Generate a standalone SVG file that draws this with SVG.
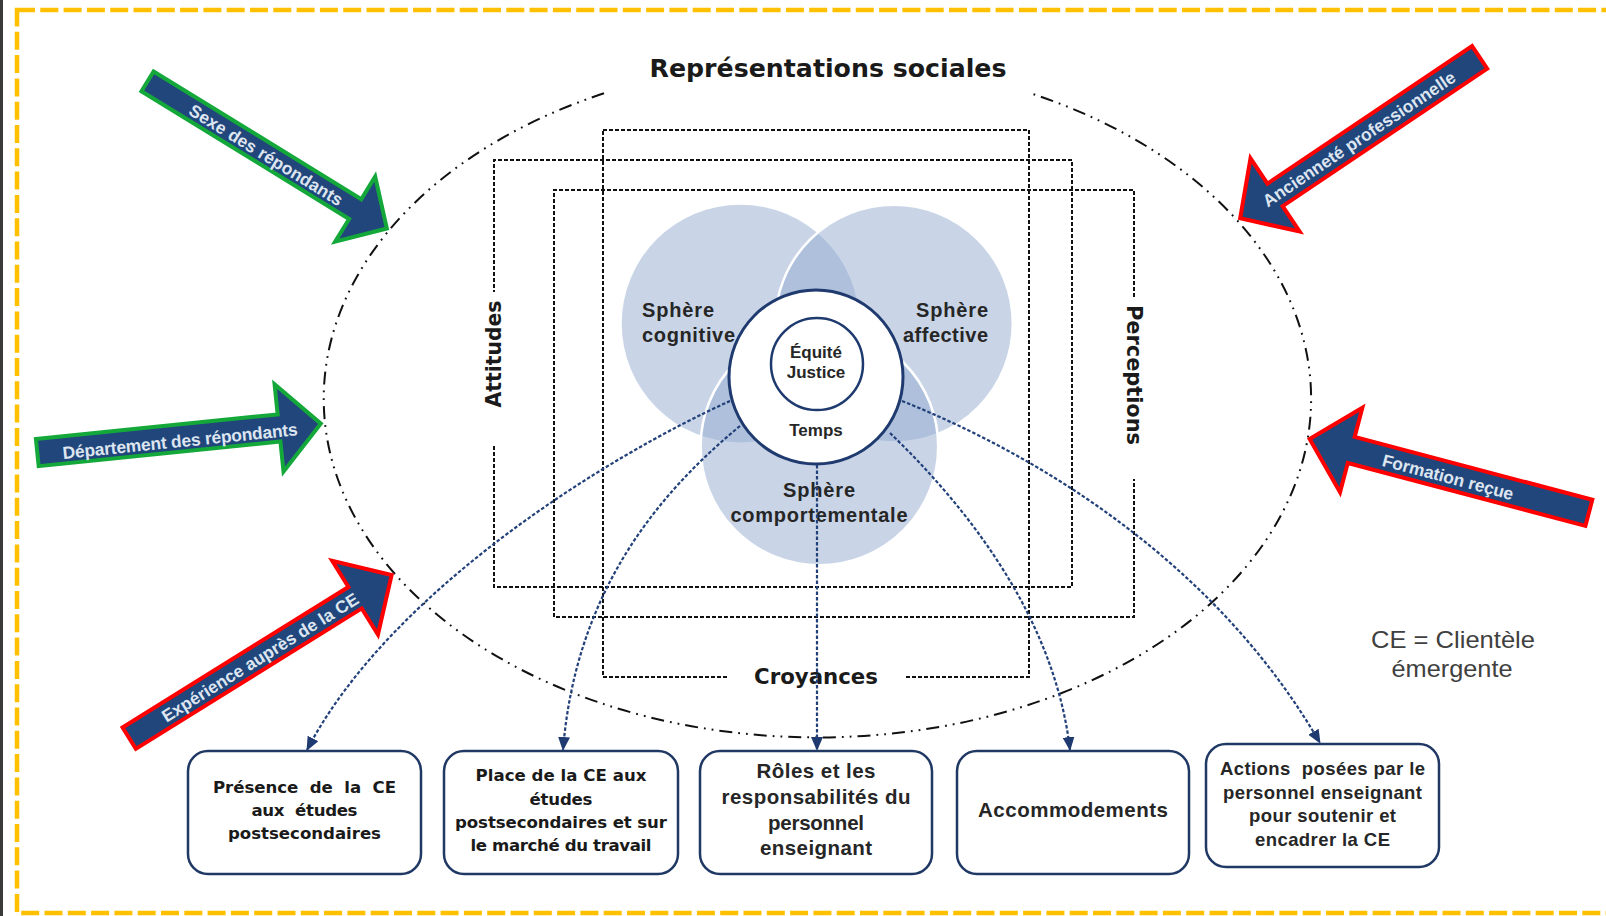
<svg xmlns="http://www.w3.org/2000/svg" width="1606" height="916" viewBox="0 0 1606 916">
<style>
.bd{font-family:"DejaVu Sans",Verdana,sans-serif;font-weight:bold;fill:#1a1a1a}
.ls{font-family:"Liberation Sans",Arial,sans-serif;font-weight:bold;fill:#262626}
.arr{fill:#21467B;stroke-width:4;stroke-linejoin:miter}
.g{stroke:#14A83B}
.r{stroke:#FF0000}
.at{font-family:"Liberation Sans",Arial,sans-serif;font-weight:bold;font-size:17.4px;fill:#DDE5F0}
.frame{fill:none;stroke:#111;stroke-width:2;stroke-dasharray:4 2}
.box{fill:#fff;stroke:#1F3864;stroke-width:2.5}
.con{fill:none;stroke:#22407A;stroke-width:2.2;stroke-dasharray:3.5 2}
.sph{fill:#94ABCF;fill-opacity:.5}
</style>
<defs>
<marker id="ah" viewBox="0 0 14 12" refX="13" refY="6" markerWidth="14" markerHeight="12" markerUnits="userSpaceOnUse" orient="auto">
<path d="M0,0 L14,6 L0,12 Z" fill="#1F3A70"/>
</marker>
</defs>
<rect width="1606" height="916" fill="#fff"/>
<rect x="0" y="0" width="3" height="916" fill="#3a3a3a"/>
<rect x="17" y="10" width="1610" height="903" fill="none" stroke="#FFC000" stroke-width="4.5" stroke-dasharray="18 5.3"/>

<g id="ellipse">
<path d="M604 93.3 A493.7 338.7 0 1 0 1029 92.7" fill="none" stroke="#111" stroke-width="2" stroke-dasharray="13 6 1.8 6 1.8 6"/>
</g>
<g id="title"><text class="bd" x="828" y="77" font-size="25" text-anchor="middle" textLength="357" lengthAdjust="spacingAndGlyphs">Représentations sociales</text></g>

<g id="frames">
<path class="frame" d="M603 130 H1029 V677 H906 M727 677 H603 V130"/>
<path class="frame" d="M494 446 V587 H1072 V160 H494 V292"/>
<path class="frame" d="M1134 297 V190 H554 V617 H1134 V479"/>
</g>
<g id="lbl-attitudes"><text class="bd" font-size="21" text-anchor="middle" transform="translate(493 354) rotate(-90)" dy="0.36em" textLength="107" lengthAdjust="spacingAndGlyphs">Attitudes</text></g>
<g id="lbl-perceptions"><text class="bd" font-size="21" text-anchor="middle" transform="translate(1135 375) rotate(90)" dy="0.36em" textLength="140" lengthAdjust="spacingAndGlyphs">Perceptions</text></g>
<g id="lbl-croyances"><text class="bd" x="816" y="684" font-size="21" text-anchor="middle" textLength="124" lengthAdjust="spacingAndGlyphs">Croyances</text></g>

<g id="spheres">
<circle class="sph" cx="740.5" cy="323.6" r="118.8"/>
<circle class="sph" cx="894" cy="323.6" r="118.8" stroke="#fff" stroke-width="2.5"/>
<circle class="sph" cx="819.4" cy="446.5" r="118.8" stroke="#fff" stroke-width="2.5"/>
</g>
<g id="sphere-cognitive">
<text class="ls" x="642" y="317" font-size="20" textLength="72">Sphère</text>
<text class="ls" x="642" y="342" font-size="20" textLength="93">cognitive</text>
</g>
<g id="sphere-affective">
<text class="ls" x="988" y="317" font-size="20" text-anchor="end" textLength="72">Sphère</text>
<text class="ls" x="988" y="342" font-size="20" text-anchor="end" textLength="85">affective</text>
</g>
<g id="sphere-comportementale">
<text class="ls" x="819" y="497" font-size="20" text-anchor="middle" textLength="72">Sphère</text>
<text class="ls" x="819" y="522" font-size="20" text-anchor="middle" textLength="177">comportementale</text>
</g>
<g id="center">
<circle cx="816" cy="377" r="87" fill="#fff" stroke="#1F3A6E" stroke-width="3"/>
<circle cx="817" cy="364" r="46" fill="#fff" stroke="#1F3A6E" stroke-width="2.5"/>
<text class="ls" x="816" y="358" font-size="17" text-anchor="middle">Équité</text>
<text class="ls" x="816" y="378" font-size="17" text-anchor="middle">Justice</text>
<text class="ls" x="816" y="436" font-size="17" text-anchor="middle">Temps</text>
</g>

<g id="arrow-sexe">
<path class="arr g" transform="translate(145.8 80.3) rotate(31.59)" d="M2,-11.6 H245.8 V-38.2 L283,0 L245.8,38.2 V11.6 H2 Z"/>
<text class="at" text-anchor="middle" dy="0.35em" transform="translate(266 155) rotate(31.59)" textLength="177">Sexe des répondants</text>
</g>
<g id="arrow-departement">
<path class="arr g" transform="translate(35.3 452.8) rotate(-5.83)" d="M2,-13.6 H245 V-44 L287,0 L245,44 V13.6 H2 Z"/>
<text class="at" text-anchor="middle" dy="0.35em" transform="translate(180 441) rotate(-5.83)" textLength="236">Département des répondants</text>
</g>
<g id="arrow-experience">
<path class="arr r" transform="translate(127.5 739.2) rotate(-31.87)" d="M2,-12.6 H268 V-43.3 L311,0 L268,43.3 V12.6 H2 Z"/>
<text class="at" text-anchor="middle" dy="0.35em" transform="translate(260 657.5) rotate(-31.87)" textLength="228">Expérience auprès de la CE</text>
</g>
<g id="arrow-anciennete">
<path class="arr r" transform="translate(1481.3 56.3) rotate(146.1)" d="M2,-13.6 H248.5 V-44 L290.5,0 L248.5,44 V13.6 H2 Z"/>
<text class="at" text-anchor="middle" dy="0.35em" transform="translate(1359 139) rotate(-33.9)" textLength="228">Ancienneté professionnelle</text>
</g>
<g id="arrow-formation">
<path class="arr r" transform="translate(1590.8 513.3) rotate(194.8)" d="M2,-13.5 H247.8 V-43.7 L290.8,0 L247.8,43.7 V13.5 H2 Z"/>
<text class="at" text-anchor="middle" dy="0.35em" transform="translate(1448 477) rotate(14.8)" textLength="135">Formation reçue</text>
</g>

<g id="box-presence">
<rect class="box" x="188" y="751" width="233" height="123" rx="20"/>
<text class="bd" font-size="16.6" text-anchor="middle" xml:space="preserve"><tspan x="304.5" y="793" textLength="183">Présence  de  la  CE</tspan><tspan x="304.5" y="816" textLength="106">aux  études</tspan><tspan x="304.5" y="839" textLength="153">postsecondaires</tspan></text>
</g>
<g id="box-place">
<rect class="box" x="444" y="751" width="234" height="123" rx="20"/>
<text class="bd" font-size="16.6" text-anchor="middle"><tspan x="561" y="781" textLength="171">Place de la CE aux</tspan><tspan x="561" y="805" textLength="63">études</tspan><tspan x="561" y="828" textLength="212">postsecondaires et sur</tspan><tspan x="561" y="851" textLength="181">le marché du travail</tspan></text>
</g>
<g id="box-roles">
<rect class="box" x="700" y="751" width="232" height="123" rx="20"/>
<text class="ls" font-size="20.5" text-anchor="middle"><tspan x="816" y="778" textLength="119">Rôles et les</tspan><tspan x="816" y="804" textLength="189">responsabilités du</tspan><tspan x="816" y="830" textLength="96">personnel</tspan><tspan x="816" y="855" textLength="112">enseignant</tspan></text>
</g>
<g id="box-accommodements">
<rect class="box" x="957" y="751" width="232" height="123" rx="20"/>
<text class="ls" x="1073" y="817" font-size="20.5" text-anchor="middle" textLength="190">Accommodements</text>
</g>
<g id="box-actions">
<rect class="box" x="1206" y="744" width="233" height="123" rx="20"/>
<text class="ls" font-size="18.5" text-anchor="middle" xml:space="preserve"><tspan x="1322.5" y="775" textLength="205">Actions  posées par le</tspan><tspan x="1322.5" y="799" textLength="199">personnel enseignant</tspan><tspan x="1322.5" y="822" textLength="147">pour soutenir et</tspan><tspan x="1322.5" y="846" textLength="135">encadrer la CE</tspan></text>
</g>

<g id="legend">
<text font-family="Liberation Sans,Arial,sans-serif" font-size="24" fill="#404040" text-anchor="middle"><tspan x="1453" y="648" textLength="164" lengthAdjust="spacingAndGlyphs">CE = Clientèle</tspan><tspan x="1452" y="677" textLength="121" lengthAdjust="spacingAndGlyphs">émergente</tspan></text>
</g>

<g id="connectors">
<path class="con" marker-end="url(#ah)" d="M730 401 C610 455, 390 590, 307 750"/>
<path class="con" marker-end="url(#ah)" d="M740 426 C650 500, 575 600, 563 750"/>
<path class="con" marker-end="url(#ah)" d="M817 465 V750"/>
<path class="con" marker-end="url(#ah)" d="M890 433 C970 510, 1055 620, 1070 750"/>
<path class="con" marker-end="url(#ah)" d="M902 401 C1050 460, 1220 570, 1320 743"/>
</g>
</svg>
